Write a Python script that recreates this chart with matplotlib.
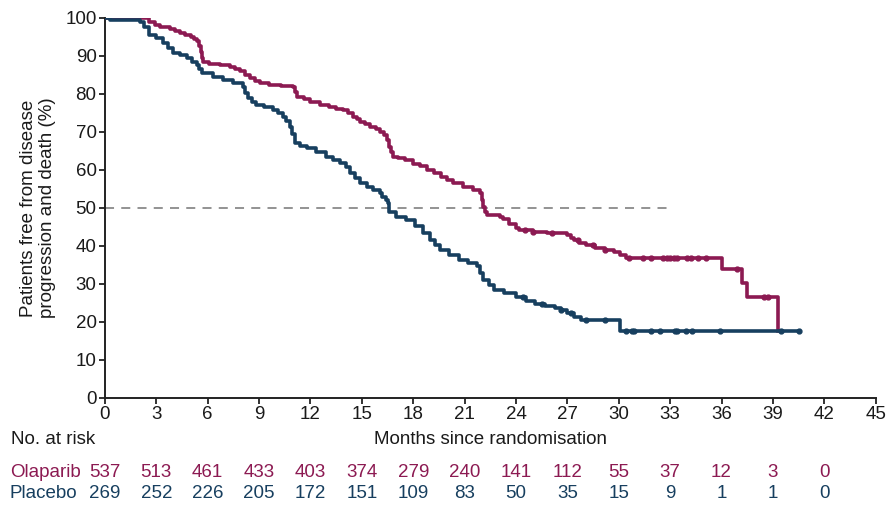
import matplotlib
matplotlib.use('Agg')
import matplotlib.pyplot as plt
import matplotlib.transforms as mtransforms
import numpy as np

plt.rcParams['font.family'] = ['Liberation Sans', 'DejaVu Sans']

# Kaplan-Meier steps (month, % free of progression)
ola_t = [0, 2.6, 2.9, 3.2, 3.8, 4.1, 4.4, 4.7, 5.0, 5.2, 5.4, 5.5, 5.6, 5.65, 5.7,
         6.1, 6.7, 7.3, 7.6, 7.9, 8.2, 8.5, 8.75, 9.05, 9.6, 10.3, 11.0, 11.1, 11.2,
         11.6, 12.0, 12.55, 13.1, 13.5, 13.9, 14.2, 14.5, 14.7, 14.9, 15.2, 15.5,
         15.8, 16.05, 16.3, 16.45, 16.6, 16.7, 16.8, 17.1, 17.5, 18.0, 18.4, 18.8,
         19.2, 19.6, 19.95, 20.3, 20.9, 21.5, 21.9, 22.0, 22.1, 22.2, 22.3, 23.05,
         23.25, 23.6, 24.0, 24.2, 25.0, 25.8, 26.95, 27.2, 27.4, 27.7, 28.1, 28.6,
         29.2, 29.7, 30.1, 30.45, 36.0, 37.2, 37.5, 39.3]
ola_s = [100, 99, 98.2, 97.5, 97, 96.5, 96, 95.4, 95, 94.5, 94, 92.5, 91, 89.5, 88.5,
         88, 87.6, 87, 86.5, 86, 85, 84.2, 83.5, 83, 82.4, 82.2, 81.9, 80.5, 79.3,
         78.6, 78, 77.1, 76.5, 76.1, 75.8, 74.9, 74, 73.3, 72.7, 72, 71.4,
         70.7, 70.1, 69.2, 67.9, 66, 64.8, 63.5, 63.2, 62.5, 61.7, 61, 60,
         59.1, 58.2, 57.4, 56.5, 55.6, 54.7, 53.9, 52, 50.3, 49, 48.2, 47.7,
         47, 45.8, 44.6, 44.2, 43.8, 43.3, 42.9, 42.2, 41.5, 40.9, 40.3, 39.5,
         39, 38.5, 37.6, 36.9, 34.0, 30.2, 26.7, 17.6]

pla_t = [0, 0.3, 2.05, 2.3, 2.6, 3.0, 3.4, 3.7, 4.0, 4.4, 4.8, 5.1, 5.35, 5.5, 5.65,
         6.3, 6.9, 7.5, 8.05, 8.2, 8.35, 8.6, 8.85, 9.3, 9.8, 10.1, 10.4, 10.6, 10.8,
         10.95, 11.1, 11.4, 11.8, 12.3, 12.9, 13.3, 13.7, 14.1, 14.3, 14.6, 14.9,
         15.3, 15.65, 16.05, 16.2, 16.4, 16.5, 16.6, 17.0, 17.6, 18.1, 18.6, 19.0,
         19.3, 19.55, 20.1, 20.7, 21.2, 21.7, 21.9, 22.1, 22.4, 22.7, 23.3, 24.0,
         24.6, 25.1, 25.7, 26.3, 26.6, 27.0, 27.4, 27.8, 30.1, 40.5]
pla_s = [100, 99.5, 99, 97.5, 95.5, 94.8, 93.4, 92, 90.8, 90.2, 89.4, 88.5, 87.6, 86.5, 85.4,
         84.5, 83.8, 82.9, 81.9, 80.2, 78.9, 78, 77.1, 76.5, 75.8, 75, 74, 72.8, 71.4,
         69.5, 67, 66.4, 65.7, 64.8, 63.5, 62.7, 61.8, 60.9, 59.2, 58, 56.6,
         55.6, 54.7, 53.9, 53, 52.2, 51.2, 49, 47.7, 46.8, 45.2, 43.3, 41.5,
         40.3, 38.9, 37.5, 36.3, 35.4, 34.6, 33, 31.1, 29.6, 28.4, 27.6, 26.7,
         25.6, 24.7, 24.2, 23.8, 23.1, 22.3, 21.4, 20.5, 17.6, 17.6]

# censored observations (months)
ola_cens = [24.5, 25.0, 26.1, 27.6, 28.5, 29.2, 30.6, 31.4, 31.9, 32.6, 32.8, 33.0,
            33.2, 33.4, 34.0, 34.2, 34.6, 35.1, 36.9, 38.5, 38.7]
pla_cens = [24.4, 25.5, 26.6, 27.2, 28.1, 29.2, 30.45, 30.75, 30.9, 31.9, 32.4,
            33.3, 33.4, 33.9, 34.3, 35.9, 39.5, 40.5]

risk_months = [0, 3, 6, 9, 12, 15, 18, 21, 24, 27, 30, 33, 36, 39, 42]
ola_risk = [537, 513, 461, 433, 403, 374, 279, 240, 141, 112, 55, 37, 12, 3, 0]
pla_risk = [269, 252, 226, 205, 172, 151, 109, 83, 50, 35, 15, 9, 1, 1, 0]

ola_col = '#8c1a52'
pla_col = '#173f5f'

def level_at(t_list, s_list, x):
    i = np.searchsorted(np.array(t_list), x, side='right') - 1
    return s_list[i]

fig = plt.figure(figsize=(8.89, 5.12), dpi=100)
ax = fig.add_axes([0.118, 0.2227, 0.867, 0.7422])

ax.axhline(50, xmin=0, xmax=33 / 45, color='#8a8a8a', lw=1.3, ls=(0, (5, 4)), zorder=1)

ax.step(pla_t, pla_s, where='post', color=pla_col, lw=2.6, zorder=3)
ax.step(ola_t, ola_s, where='post', color=ola_col, lw=2.6, zorder=2)

ax.plot(ola_cens, [level_at(ola_t, ola_s, c) for c in ola_cens], 'o', ms=3.5,
        color=ola_col, zorder=2)
ax.plot(pla_cens, [level_at(pla_t, pla_s, c) for c in pla_cens], 'o', ms=3.5,
        color=pla_col, zorder=3)

ax.set_xlim(0, 45)
ax.set_ylim(0, 100)
ax.set_xticks(np.arange(0, 46, 3))
ax.set_yticks(np.arange(0, 101, 10))
ax.tick_params(labelsize=13.5, direction='out', length=4, width=1.3, color='#222222',
               labelcolor='#1a1a1a', pad=2)
for side in ['top', 'right']:
    ax.spines[side].set_visible(False)
for side in ['left', 'bottom']:
    ax.spines[side].set_linewidth(1.4)
    ax.spines[side].set_color('#222222')

ax.set_ylabel('Patients free from disease\nprogression and death (%)', fontsize=13.5,
              color='#1a1a1a', linespacing=1.15)
ax.yaxis.set_label_coords(-0.064, 0.5)

tr = mtransforms.blended_transform_factory(ax.transData, fig.transFigure)
tr_ax = mtransforms.blended_transform_factory(ax.transAxes, fig.transFigure)

ax.text(0.5, 0.141, 'Months since randomisation', transform=tr_ax, ha='center',
        va='center', fontsize=13.5, color='#1a1a1a')
fig.text(0.012, 0.141, 'No. at risk', ha='left', va='center', fontsize=13.5, color='#1a1a1a')
fig.text(0.011, 0.078, 'Olaparib', ha='left', va='center', fontsize=13.5, color=ola_col)
fig.text(0.011, 0.037, 'Placebo', ha='left', va='center', fontsize=13.5, color=pla_col)
for m, a, b in zip(risk_months, ola_risk, pla_risk):
    ax.text(m, 0.078, str(a), transform=tr, ha='center', va='center', fontsize=13.5,
            color=ola_col)
    ax.text(m, 0.037, str(b), transform=tr, ha='center', va='center', fontsize=13.5,
            color=pla_col)

fig.savefig('out.png', dpi=100)
